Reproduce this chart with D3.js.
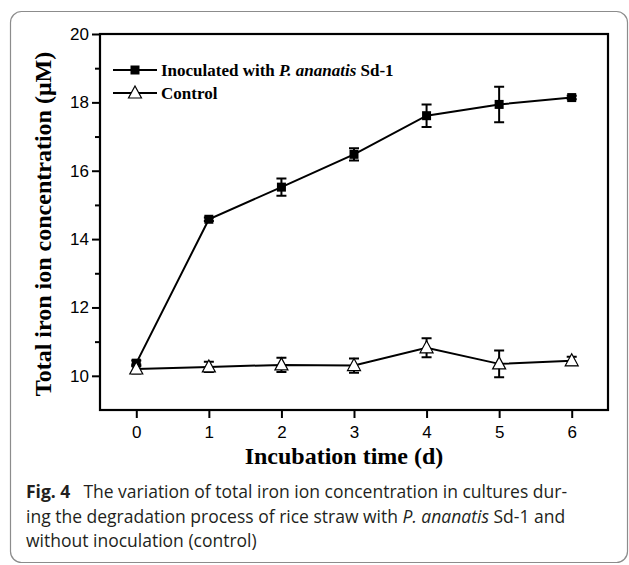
<!DOCTYPE html>
<html>
<head>
<meta charset="utf-8">
<script src="https://cdn.jsdelivr.net/npm/d3@7"></script>
<style>
  html, body { margin: 0; padding: 0; background: #fff; }
  svg { display: block; }
</style>
</head>
<body>
<svg id="svgf" width="629" height="565"></svg>
<script>
/*global d3 */

//chart values
var days = [0, 1, 2, 3, 4, 5, 6];
var inocMean = [10.37, 14.58, 15.52, 16.48, 17.61, 17.94, 18.14];
var inocErr = [0.08, 0.05, 0.25, 0.18, 0.33, 0.52, 0.05];
var ctrlMean = [10.2, 10.26, 10.32, 10.3, 10.82, 10.35, 10.44];
var ctrlErr = [0.13, 0.15, 0.21, 0.21, 0.28, 0.39, 0.12];
var yMajorTicks = [10, 12, 14, 16, 18, 20];
var yMinorTicks = [11, 13, 15, 17, 19];
var legendNames = ["Inoculated with ", "P. ananatis", " Sd-1"];
var captionLines = [
    "The variation of total iron ion concentration in cultures dur-",
    "ing the degradation process of rice straw with ",
    "without inoculation (control)"];

(function () {
    "use strict";

    var svg = d3.select("#svgf"),
        box = {left: 100, right: 608, top: 34, bottom: 410},
        x = d3.scaleLinear().domain([-0.5, 6.5]).range([box.left, box.right]),
        y = d3.scaleLinear().domain([9, 20]).range([box.bottom, box.top]),
        serif = "'Liberation Serif', 'Times New Roman', serif",
        sans = "'Liberation Sans', Arial, sans-serif",
        capfont = "'Open Sans', Lato, sans-serif";


    function drawFrame () {
        svg.append("rect")
            .attr("x", 10.5)
            .attr("y", 11.5)
            .attr("width", 617)
            .attr("height", 551)
            .attr("rx", 11)
            .attr("fill", "none")
            .attr("stroke", "#8c8c8c")
            .attr("stroke-width", 1.2);
    }


    function drawAxes () {
        var g = svg.append("g");
        //y axis, ticks pointing outward
        g.append("g")
            .attr("transform", "translate(" + box.left + ",0)")
            .call(d3.axisLeft(y).tickValues(yMajorTicks).tickSize(8)
                  .tickPadding(3).tickFormat(d3.format("d")))
            .call(function (a) {
                a.select(".domain").remove();
                a.selectAll("line").attr("stroke-width", 2);
                a.selectAll("text").attr("font-family", sans)
                    .attr("font-size", 17).attr("fill", "#000"); });
        g.append("g")
            .attr("transform", "translate(" + box.left + ",0)")
            .call(d3.axisLeft(y).tickValues(yMinorTicks).tickSize(5)
                  .tickFormat(""))
            .call(function (a) {
                a.select(".domain").remove();
                a.selectAll("line").attr("stroke-width", 2); });
        //x axis
        g.append("g")
            .attr("transform", "translate(0," + box.bottom + ")")
            .call(d3.axisBottom(x).tickValues(days).tickSize(8)
                  .tickPadding(8).tickFormat(d3.format("d")))
            .call(function (a) {
                a.select(".domain").remove();
                a.selectAll("line").attr("stroke-width", 2);
                a.selectAll("text").attr("font-family", sans)
                    .attr("font-size", 17).attr("fill", "#000"); });
        //plot box
        g.append("rect")
            .attr("x", box.left)
            .attr("y", box.top)
            .attr("width", box.right - box.left)
            .attr("height", box.bottom - box.top)
            .attr("fill", "none")
            .attr("stroke", "#000")
            .attr("stroke-width", 2.2);
        //axis titles
        svg.append("text")
            .attr("x", 344)
            .attr("y", 464)
            .attr("text-anchor", "middle")
            .attr("font-family", serif)
            .attr("font-weight", "bold")
            .attr("font-size", 24)
            .text("Incubation time (d)");
        svg.append("text")
            .attr("transform", "translate(51,224) rotate(-90)")
            .attr("text-anchor", "middle")
            .attr("font-family", serif)
            .attr("font-weight", "bold")
            .attr("font-size", 24)
            .text("Total iron ion concentration (\u03bcM)");
    }


    function squareMarker (sel) {
        sel.append("rect")
            .attr("x", -4.5).attr("y", -4.5)
            .attr("width", 9).attr("height", 9)
            .attr("fill", "#000");
    }


    function triangleMarker (sel) {
        sel.append("path")
            .attr("d", "M0,-7L6.5,5L-6.5,5Z")
            .attr("fill", "#fff")
            .attr("stroke", "#000")
            .attr("stroke-width", 1.2);
    }


    function drawSeries (means, errs, marker) {
        var g = svg.append("g"),
            pts = days.map(function (d, i) {
                return {x: d, m: means[i], e: errs[i]}; }),
            line = d3.line()
                .x(function (d) { return x(d.x); })
                .y(function (d) { return y(d.m); });
        g.append("path")
            .datum(pts)
            .attr("d", line)
            .attr("fill", "none")
            .attr("stroke", "#000")
            .attr("stroke-width", 2);
        g.selectAll("g.eb").data(pts).enter().append("g")
            .attr("class", "eb")
            .each(function (d) {
                var eg = d3.select(this),
                    cx = x(d.x),
                    y0 = y(d.m - d.e),
                    y1 = y(d.m + d.e);
                eg.append("path")
                    .attr("d", "M" + cx + "," + y0 + "V" + y1 +
                          "M" + (cx - 5) + "," + y0 + "H" + (cx + 5) +
                          "M" + (cx - 5) + "," + y1 + "H" + (cx + 5))
                    .attr("fill", "none")
                    .attr("stroke", "#000")
                    .attr("stroke-width", 2); });
        g.selectAll("g.mk").data(pts).enter().append("g")
            .attr("class", "mk")
            .attr("transform", function (d) {
                return "translate(" + x(d.x) + "," + y(d.m) + ")"; })
            .call(marker);
    }


    function drawLegend () {
        var rows = [{y: 70, marker: squareMarker},
                    {y: 93, marker: triangleMarker}];
        rows.forEach(function (r, idx) {
            var g = svg.append("g"), t;
            g.append("line")
                .attr("x1", 113).attr("x2", 157)
                .attr("y1", r.y).attr("y2", r.y)
                .attr("stroke", "#000")
                .attr("stroke-width", 2);
            g.append("g")
                .attr("transform", "translate(135," + r.y + ")")
                .call(r.marker);
            t = g.append("text")
                .attr("x", 161)
                .attr("y", r.y + 6)
                .attr("font-family", serif)
                .attr("font-weight", "bold")
                .attr("font-size", 17);
            if(idx === 0) {
                t.append("tspan").text(legendNames[0]);
                t.append("tspan").attr("font-style", "italic")
                    .text(legendNames[1]);
                t.append("tspan").text(legendNames[2]); }
            else {
                t.text("Control"); } });
    }


    function drawCaption () {
        var t;
        t = svg.append("text")
            .attr("x", 26).attr("y", 498)
            .attr("font-family", capfont)
            .attr("font-size", 17.5)
            .attr("fill", "#231f20");
        t.append("tspan").attr("font-weight", "bold").text("Fig. 4");
        t.append("tspan").attr("dx", 13).text(captionLines[0]);
        t = svg.append("text")
            .attr("x", 26).attr("y", 523)
            .attr("font-family", capfont)
            .attr("font-size", 17.5)
            .attr("fill", "#231f20");
        t.append("tspan").text(captionLines[1]);
        t.append("tspan").attr("font-style", "italic").text("P. ananatis");
        t.append("tspan").text(" Sd-1 and");
        svg.append("text")
            .attr("x", 26).attr("y", 547)
            .attr("font-family", capfont)
            .attr("font-size", 17.5)
            .attr("fill", "#231f20")
            .text(captionLines[2]);
    }


    drawFrame();
    drawAxes();
    drawSeries(inocMean, inocErr, squareMarker);
    drawSeries(ctrlMean, ctrlErr, triangleMarker);
    drawLegend();
    drawCaption();
}());
</script>
</body>
</html>
